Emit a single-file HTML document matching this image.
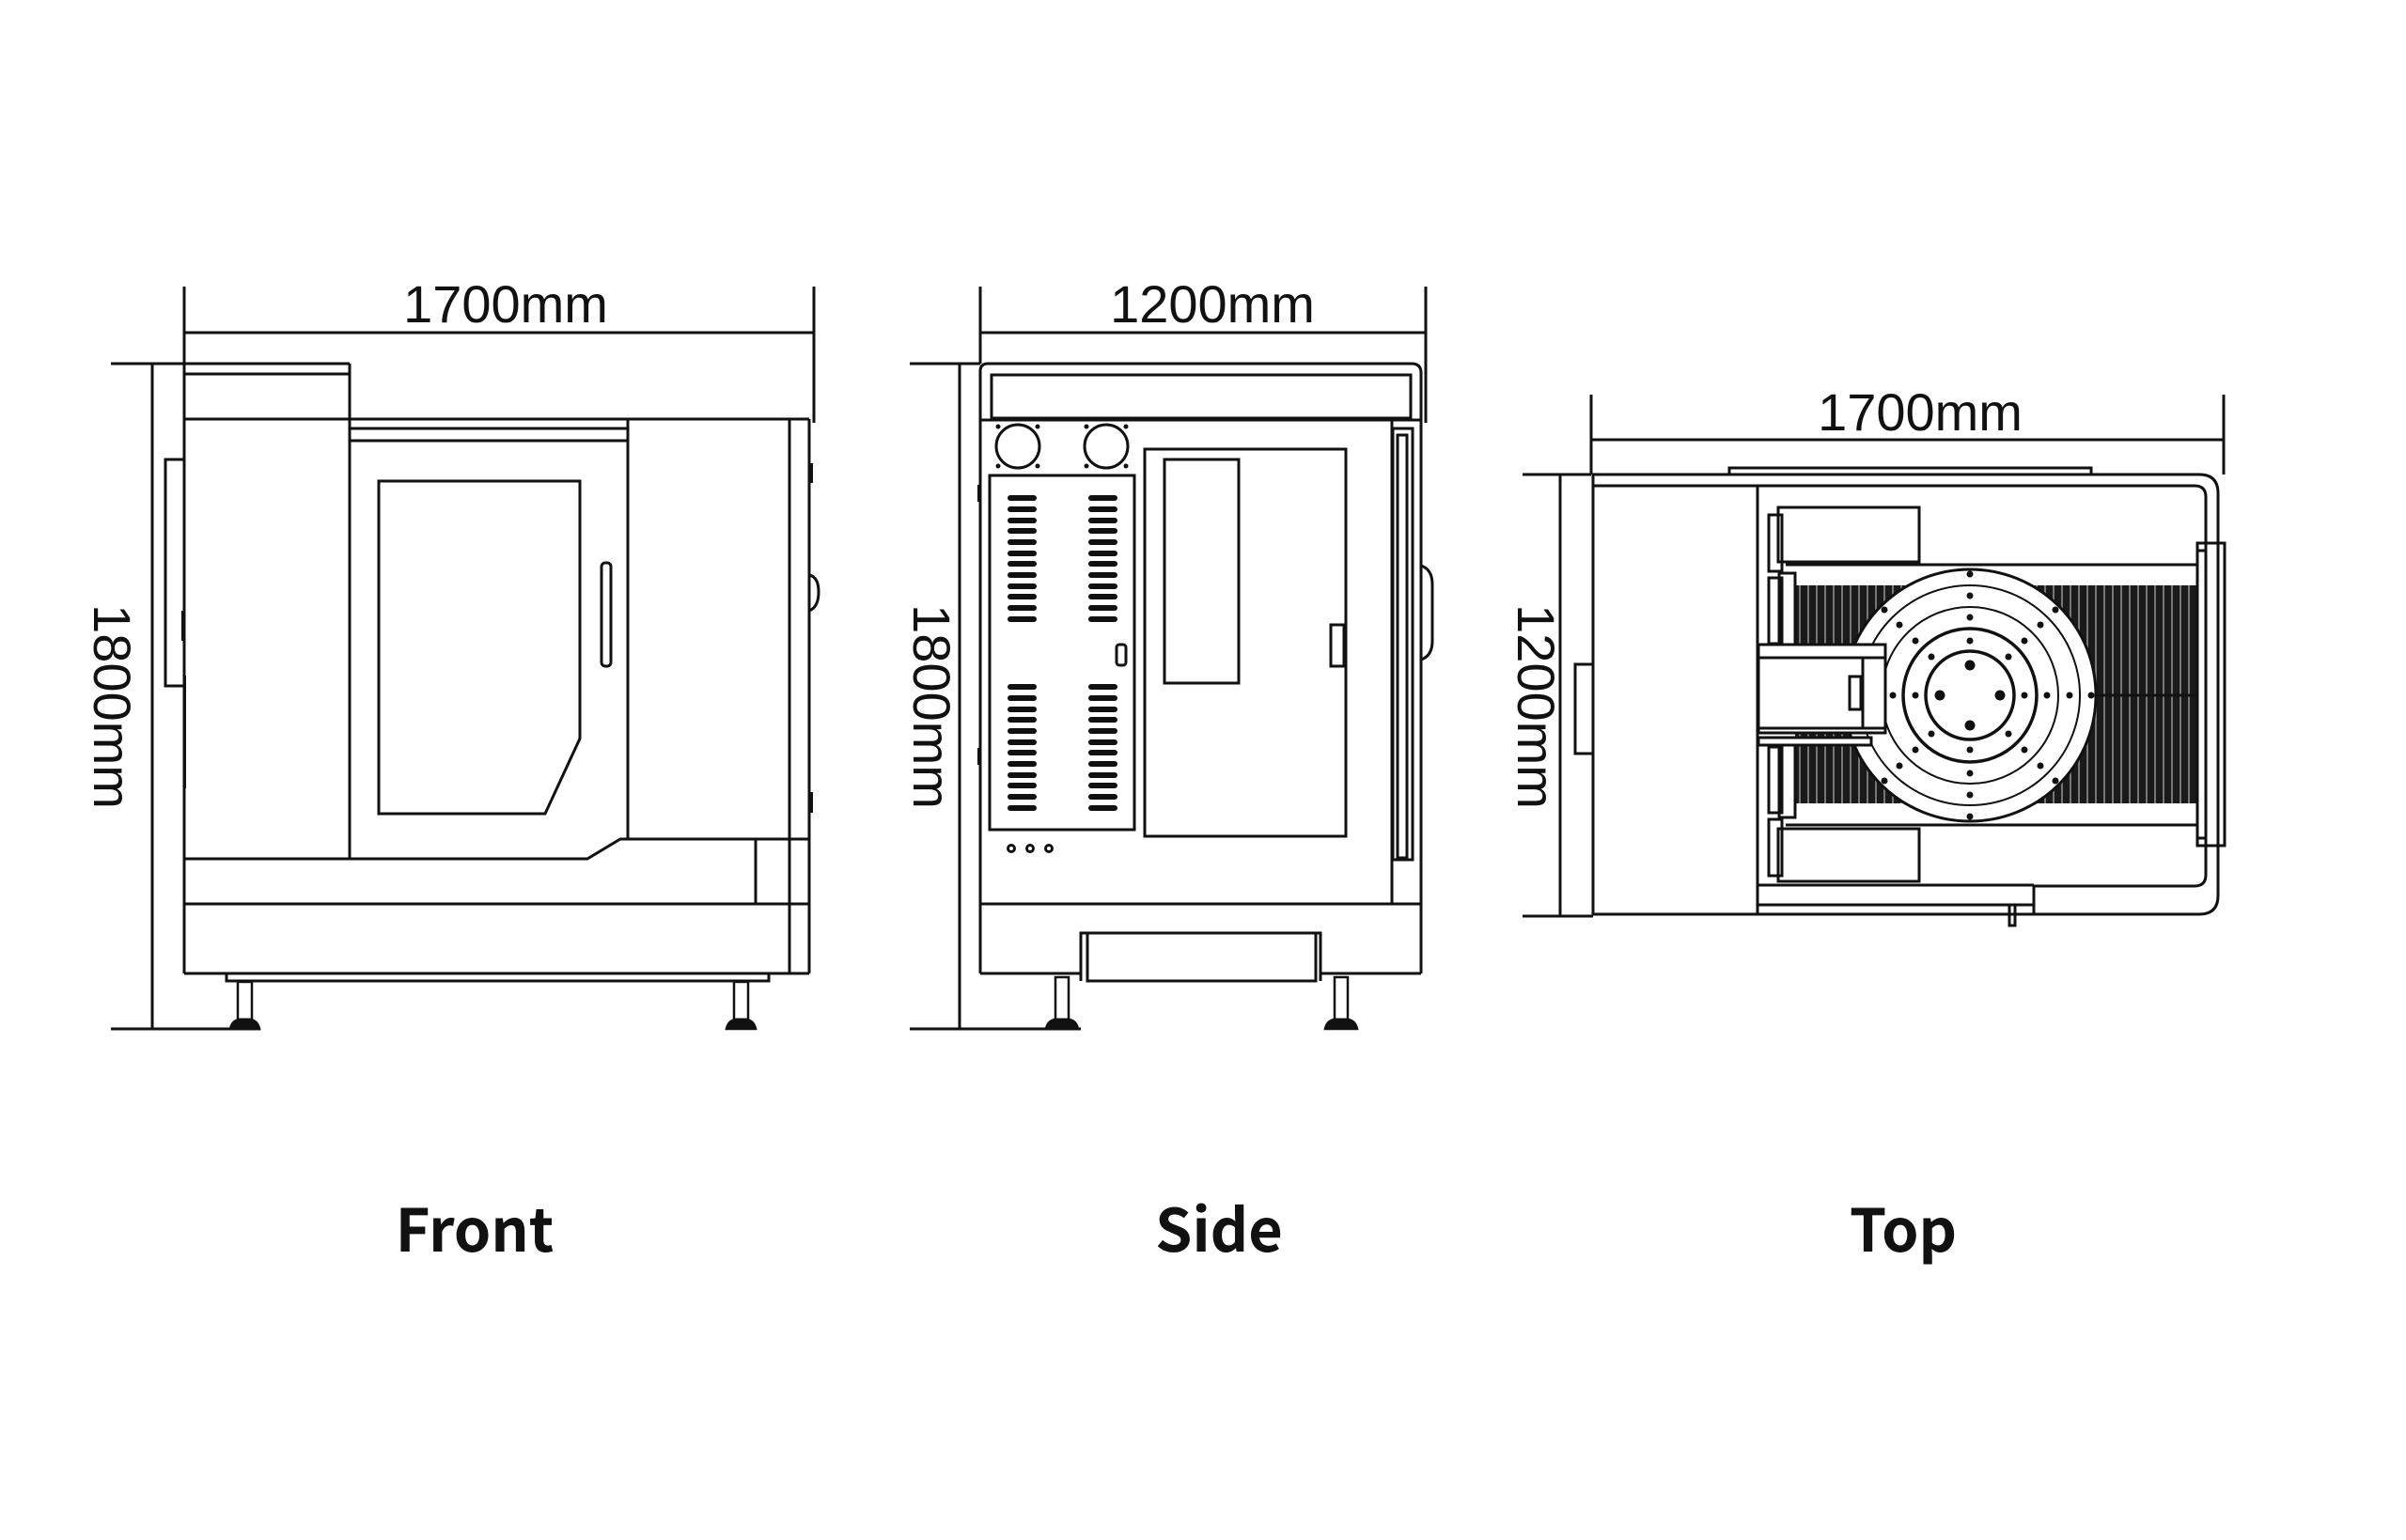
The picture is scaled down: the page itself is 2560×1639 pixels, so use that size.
<!DOCTYPE html>
<html><head><meta charset="utf-8"><style>
html,body{margin:0;padding:0;background:#fff}
svg{display:block}
.dim{font-family:"Liberation Sans",sans-serif;font-size:56px;fill:#111}
.lbl{font-family:"Noto Sans CJK SC","Liberation Sans",sans-serif;font-weight:700;font-size:63px;fill:#111}
</style></head><body>
<svg width="2560" height="1639" viewBox="0 0 2560 1639" xmlns="http://www.w3.org/2000/svg">
<defs>
<pattern id="bel" width="9" height="10" patternUnits="userSpaceOnUse">
<rect width="9" height="10" fill="#1a1a1a"/><rect x="6" width="2" height="10" fill="#777"/>
</pattern>
</defs>
<rect width="2560" height="1639" fill="#fff"/>
<g fill="none" stroke="#111" stroke-width="3">
<line x1="196" y1="305" x2="196" y2="1036"/>
<line x1="866" y1="305" x2="866" y2="450"/>
<line x1="196" y1="354" x2="866" y2="354"/>
<line x1="118" y1="387" x2="372" y2="387"/>
<line x1="162" y1="387" x2="162" y2="1095"/>
<line x1="118" y1="1095" x2="277" y2="1095"/>
<line x1="372" y1="387" x2="372" y2="914"/>
<line x1="196" y1="398" x2="372" y2="398"/>
<line x1="196" y1="446" x2="861" y2="446"/>
<line x1="372" y1="456" x2="668" y2="456"/>
<line x1="372" y1="469" x2="668" y2="469"/>
<line x1="861" y1="446" x2="861" y2="1036"/>
<line x1="840" y1="446" x2="840" y2="1036"/>
<line x1="196" y1="1036" x2="861" y2="1036"/>
<path d="M241 1036 V1044 H818 V1036"/>
<line x1="668" y1="446" x2="668" y2="893"/>
<path d="M196 914 H625 L660 893 H861"/>
<line x1="804" y1="893" x2="804" y2="962"/>
<line x1="196" y1="962" x2="861" y2="962"/>
<path d="M403 512 H617 V786 L580 866 H403 Z"/>
<rect x="640" y="599" width="10" height="110" rx="4"/>
<path d="M196 489 H176 V730 H196"/>
<g stroke-width="2.5">
<rect x="253" y="1045" width="15" height="40"/>
<path d="M245 1095 Q247 1086 255 1085 H266 Q274 1086 276 1095 Z" fill="#111"/>
<rect x="781" y="1045" width="15" height="40"/>
<path d="M773 1095 Q775 1086 783 1085 H794 Q802 1086 804 1095 Z" fill="#111"/>
</g>
<path d="M861 612 q10 2 10 18 q0 16 -10 20"/>
</g>
<g fill="#111">
<rect x="861" y="493" width="4" height="21"/><rect x="861" y="843" width="4" height="22"/>
<rect x="193" y="650" width="4" height="32"/>
<rect x="195" y="719" width="3" height="120"/>
</g>
<g fill="none" stroke="#111" stroke-width="3">
<line x1="1043" y1="305" x2="1043" y2="387"/>
<line x1="1517" y1="305" x2="1517" y2="450"/>
<line x1="1043" y1="354" x2="1517" y2="354"/>
<line x1="968" y1="387" x2="1043" y2="387"/>
<line x1="1021" y1="387" x2="1021" y2="1095"/>
<line x1="968" y1="1095" x2="1150" y2="1095"/>
<path d="M1043 1036 V395 Q1043 387 1051 387 H1502 Q1512 387 1512 397 V1036"/>
<rect x="1055" y="399" width="446" height="46"/>
<line x1="1043" y1="447" x2="1512" y2="447"/>
<line x1="1481" y1="447" x2="1481" y2="962"/>
<rect x="1482" y="456" width="21" height="459"/>
<rect x="1487" y="463" width="10" height="450"/>
<line x1="1043" y1="962" x2="1512" y2="962"/>
<path d="M1043 1036 H1150 V993 H1405 V1036 H1512"/>
<path d="M1157 993 V1044 H1400 V993"/>
<line x1="1150" y1="1036" x2="1150" y2="1044"/>
<line x1="1405" y1="1036" x2="1405" y2="1044"/>
<path d="M1512 602 q12 4 12 20 v60 q0 16 -12 20"/>
<circle cx="1083" cy="475" r="23"/><circle cx="1177" cy="475" r="23"/>
<rect x="1053" y="506" width="154" height="377"/>
<rect x="1218" y="478" width="214" height="412"/>
<rect x="1239" y="489" width="79" height="238"/>
<rect x="1416" y="665" width="14" height="44"/>
<rect x="1188" y="686" width="10" height="22" rx="3"/>
<circle cx="1076" cy="903" r="3.5"/><circle cx="1096" cy="903" r="3.5"/><circle cx="1116" cy="903" r="3.5"/>
<g stroke-width="2.5">
<rect x="1123" y="1040" width="14" height="45"/>
<path d="M1113 1095 Q1115 1086 1123 1085 H1137 Q1145 1086 1147 1095 Z" fill="#111"/>
<rect x="1420" y="1040" width="14" height="45"/>
<path d="M1410 1095 Q1412 1086 1420 1085 H1434 Q1442 1086 1444 1095 Z" fill="#111"/>
</g>
</g>
<g fill="#111">
<circle cx="1062" cy="454" r="2.5"/><circle cx="1104" cy="454" r="2.5"/><circle cx="1062" cy="496" r="2.5"/><circle cx="1104" cy="496" r="2.5"/>
<circle cx="1156" cy="454" r="2.5"/><circle cx="1198" cy="454" r="2.5"/><circle cx="1156" cy="496" r="2.5"/><circle cx="1198" cy="496" r="2.5"/>
<rect x="1040" y="516" width="4" height="18"/><rect x="1040" y="796" width="4" height="18"/>
<g id="vc">
<rect x="1072" y="527" width="31" height="6" rx="3"/><rect x="1072" y="539" width="31" height="6" rx="3"/><rect x="1072" y="551" width="31" height="6" rx="3"/><rect x="1072" y="562" width="31" height="6" rx="3"/><rect x="1072" y="574" width="31" height="6" rx="3"/><rect x="1072" y="586" width="31" height="6" rx="3"/><rect x="1072" y="597" width="31" height="6" rx="3"/><rect x="1072" y="609" width="31" height="6" rx="3"/><rect x="1072" y="621" width="31" height="6" rx="3"/><rect x="1072" y="632" width="31" height="6" rx="3"/><rect x="1072" y="644" width="31" height="6" rx="3"/><rect x="1072" y="656" width="31" height="6" rx="3"/>
</g>
<use href="#vc" x="86"/><use href="#vc" y="201"/><use href="#vc" x="86" y="201"/>
</g>
<g fill="none" stroke="#111" stroke-width="3">
<line x1="1693" y1="420" x2="1693" y2="505"/>
<line x1="2366" y1="420" x2="2366" y2="505"/>
<line x1="1693" y1="468" x2="2366" y2="468"/>
<line x1="1620" y1="505" x2="1693" y2="505"/>
<line x1="1660" y1="505" x2="1660" y2="975"/>
<line x1="1620" y1="975" x2="1695" y2="975"/>
<path d="M1695 505 H2340 Q2360 505 2360 525 V953 Q2360 973 2340 973 H1695 Z"/>
<path d="M1695 517 H2335 Q2347 517 2347 529 V931 Q2347 943 2335 943 H2164"/>
<line x1="1870" y1="517" x2="1870" y2="973"/>
<path d="M1840 505 V498 H2225 V505"/>
<rect x="1676" y="707" width="19" height="95"/>
<line x1="1871" y1="942" x2="2164" y2="942"/>
<line x1="1871" y1="963" x2="2164" y2="963"/>
<line x1="2164" y1="942" x2="2164" y2="973"/>
<rect x="2138" y="963" width="6" height="22"/>
<rect x="1892" y="540" width="150" height="58"/>
<rect x="1892" y="882" width="150" height="56"/>
<line x1="1900" y1="601" x2="2338" y2="601"/>
<line x1="1900" y1="878" x2="2338" y2="878"/>
</g>
<rect x="1910" y="623" width="428" height="232" fill="url(#bel)"/>
<line x1="2200" y1="740" x2="2338" y2="740" stroke="#111" stroke-width="3"/>
<g fill="none" stroke="#111" stroke-width="3">
<rect x="2338" y="578" width="29" height="322"/>
<rect x="2338" y="586" width="9" height="306"/>
<rect x="1882" y="548" width="14" height="60"/>
<rect x="1882" y="615" width="14" height="70"/>
<rect x="1882" y="795" width="14" height="70"/>
<rect x="1882" y="872" width="14" height="60"/>
<rect x="1893" y="610" width="17" height="80"/>
<rect x="1893" y="790" width="17" height="80"/>
</g>
<circle cx="2096" cy="740" r="134" fill="#fff" stroke="#111" stroke-width="3"/>
<g fill="none" stroke="#111">
<circle cx="2096" cy="740" r="117" stroke-width="2"/>
<circle cx="2096" cy="740" r="94" stroke-width="2"/>
<circle cx="2096" cy="740" r="71" stroke-width="3.5"/>
<circle cx="2096" cy="740" r="47" stroke-width="3.5"/>
</g>
<g fill="#111">
<circle cx="2225" cy="740" r="3.5"/><circle cx="1967" cy="740" r="3.5"/><circle cx="2096" cy="611" r="3.5"/><circle cx="2096" cy="869" r="3.5"/>
<circle cx="2187" cy="649" r="3.5"/><circle cx="2005" cy="649" r="3.5"/><circle cx="2187" cy="831" r="3.5"/><circle cx="2005" cy="831" r="3.5"/>
<circle cx="2202" cy="740" r="3.5"/><circle cx="1990" cy="740" r="3.5"/><circle cx="2096" cy="634" r="3.5"/><circle cx="2096" cy="846" r="3.5"/>
<circle cx="2171" cy="665" r="3.5"/><circle cx="2021" cy="665" r="3.5"/><circle cx="2171" cy="815" r="3.5"/><circle cx="2021" cy="815" r="3.5"/>
<circle cx="2178" cy="740" r="3.5"/><circle cx="2014" cy="740" r="3.5"/><circle cx="2096" cy="657" r="3.5"/><circle cx="2096" cy="823" r="3.5"/>
<circle cx="2154" cy="682" r="3.5"/><circle cx="2038" cy="682" r="3.5"/><circle cx="2154" cy="798" r="3.5"/><circle cx="2038" cy="798" r="3.5"/>
<circle cx="2154" cy="740" r="3.5"/><circle cx="2038" cy="740" r="3.5"/><circle cx="2096" cy="682" r="3.5"/><circle cx="2096" cy="798" r="3.5"/>
<circle cx="2137" cy="699" r="3.5"/><circle cx="2055" cy="699" r="3.5"/><circle cx="2137" cy="781" r="3.5"/><circle cx="2055" cy="781" r="3.5"/>
<circle cx="2128" cy="740" r="5.5"/><circle cx="2064" cy="740" r="5.5"/><circle cx="2096" cy="708" r="5.5"/><circle cx="2096" cy="772" r="5.5"/>
</g>
<g fill="#fff" stroke="#111" stroke-width="3">
<rect x="1871" y="686" width="135" height="94"/>
<line x1="1871" y1="700" x2="1982" y2="700"/>
<line x1="1871" y1="775" x2="1982" y2="775"/>
<rect x="1982" y="700" width="24" height="75"/>
<rect x="1968" y="720" width="12" height="35"/>
<rect x="1871" y="785" width="120" height="8"/>
</g>
<text class="dim" x="538" y="343" text-anchor="middle">1700mm</text>
<text class="dim" x="1290" y="343" text-anchor="middle">1200mm</text>
<text class="dim" x="2043" y="458" text-anchor="middle">1700mm</text>
<text class="dim" transform="translate(100 752) rotate(90)" text-anchor="middle">1800mm</text>
<text class="dim" transform="translate(972 752) rotate(90)" text-anchor="middle">1800mm</text>
<text class="dim" transform="translate(1615 752) rotate(90)" text-anchor="middle">1200mm</text>
<text class="lbl" x="505" y="1332" text-anchor="middle">Front</text>
<text class="lbl" x="1297" y="1332" text-anchor="middle">Side</text>
<text class="lbl" x="2025" y="1332" text-anchor="middle">Top</text>
</svg>
</body></html>
